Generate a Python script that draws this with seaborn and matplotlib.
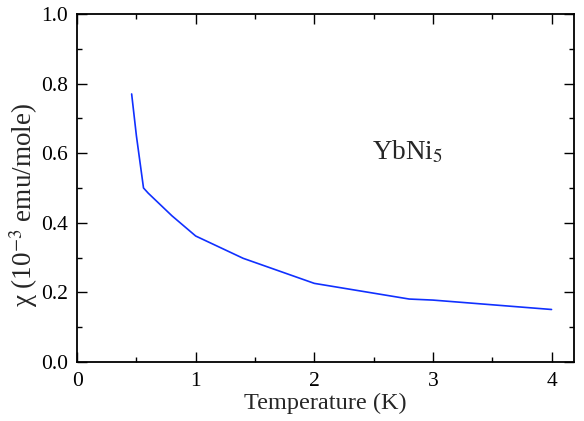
import numpy as np
import pandas as pd
import matplotlib
matplotlib.use('Agg')
import matplotlib.pyplot as plt
import seaborn as sns

# susceptibility of YbNi5
temperature = [0.46, 0.50, 0.56, 0.60, 0.80, 1.0, 1.4, 2.0, 2.8, 3.0, 4.0]
chi = [0.77, 0.65, 0.50, 0.485, 0.42, 0.362, 0.298, 0.226, 0.181, 0.178, 0.151]
x_ticks = [0, 1, 2, 3, 4]
y_ticks = [0.0, 0.2, 0.4, 0.6, 0.8, 1.0]

sns.set_style("ticks")
plt.rcParams['font.family'] = ['Liberation Serif', 'DejaVu Serif']
plt.rcParams['mathtext.fontset'] = 'stix'

df = pd.DataFrame({'T': temperature, 'chi': chi})

fig = plt.figure(figsize=(5.84, 4.21), dpi=100)
ax = fig.add_axes([0.132, 0.140, 0.851, 0.827])
sns.lineplot(data=df, x='T', y='chi', ax=ax, color='#1030ff', linewidth=1.2)

ax.set_xlim(0, 4.19)
ax.set_ylim(0, 1.0)
ax.set_xticks(x_ticks)
ax.set_yticks(y_ticks)
ax.set_xticklabels([str(v) for v in x_ticks])
ax.set_yticklabels([f"{v:.1f}" for v in y_ticks])
ax.set_xticks(np.arange(0, 4.2, 0.5), minor=True)
ax.set_yticks(np.arange(0, 1.01, 0.1), minor=True)
ax.tick_params(which='both', direction='in', top=True, right=True, colors='black', labelsize=15.5)
ax.tick_params(which='major', length=7.2, width=1)
ax.tick_params(which='minor', length=3.6, width=1)
ax.tick_params(axis='x', pad=7)
ax.tick_params(axis='y', pad=6.5)
for sp in ax.spines.values():
    sp.set_color('black')
    sp.set_linewidth(1.3)

ax.set_xlabel('Temperature (K)', fontsize=17.5, labelpad=1.5)
ax.set_ylabel('χ (10$^{-3}$ emu/mole)', fontsize=19.5)
ax.yaxis.set_label_coords(-0.074, 0.45)
ax.text(2.49, 0.603, 'YbNi$_5$', fontsize=19.5, va='center', ha='left')

fig.savefig('out.png', dpi=100)
